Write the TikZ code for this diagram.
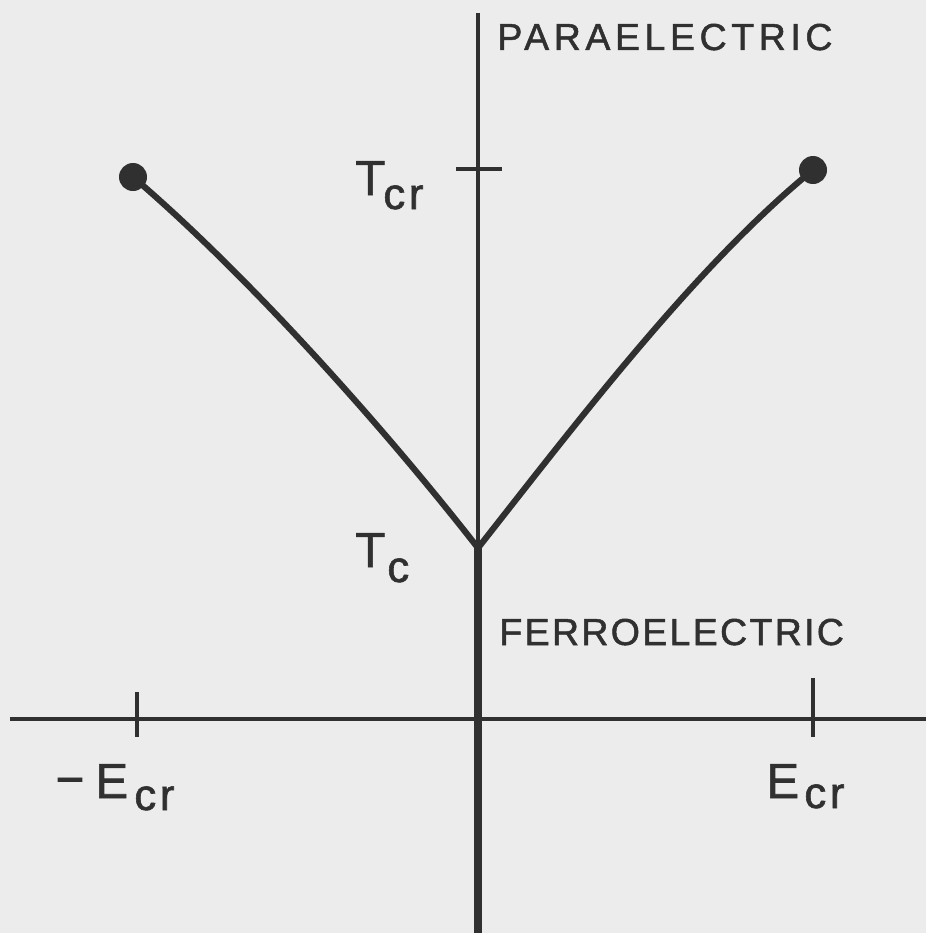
\documentclass[tikz,border=0pt]{standalone}
\usepackage{fontspec}
\setmainfont{Liberation Sans}
\newfontfamily\labelfont[FakeBold=1.3]{Liberation Sans}
\definecolor{bgpaper}{RGB}{236,236,236}
\definecolor{ink}{RGB}{48,48,48}
\tikzset{
  lbl/.style={inner sep=0pt, anchor=base west, text=ink},
  thinline/.style={draw=ink, line width=2.6pt},
  thickline/.style={draw=ink, line width=5.1pt},
  tickline/.style={draw=ink, line width=2.8pt},
  curveline/.style={draw=ink, line width=3.5pt, line join=round},
  enddot/.style={circle, fill=ink, minimum size=28*0.02cm, inner sep=0pt}
}
\newcommand{\mainsz}{\labelfont\fontsize{21.4pt}{24pt}\selectfont}
\newcommand{\bigsz}{\labelfont\fontsize{28pt}{30pt}\selectfont}
\newcommand{\subsz}{\labelfont\fontsize{25pt}{28pt}\selectfont}
\begin{document}
\begin{tikzpicture}[x=0.02cm,y=-0.02cm]
  \fill[bgpaper] (0,0) rectangle (926,933);
  \useasboundingbox (0,0) rectangle (926,933);
  % key points
  \coordinate (top) at (478,13);
  \coordinate (J) at (478,548);
  \coordinate (bot) at (478,933);
  \coordinate (xl) at (10,719);
  \coordinate (xr) at (926,719);
  \coordinate (tlt) at (137,692);
  \coordinate (tlb) at (137,737);
  \coordinate (trt) at (813,678);
  \coordinate (trb) at (813,737);
  \coordinate (tcl) at (456,169);
  \coordinate (tcr) at (502,169);
  \coordinate (DL) at (133,177);
  \coordinate (DR) at (813,170);
  % axes
  \draw[thinline] (top) -- (J);
  \draw[thickline] (J) -- (bot);
  \draw[thinline] (xl) -- (xr);
  \draw[tickline] (tlt) -- (tlb);
  \draw[tickline] (trt) -- (trb);
  \draw[tickline] (tcl) -- (tcr);
  % phase boundary curves
  \draw[curveline] (J) .. controls (386,430) and (248,275) .. (DL);
  \draw[curveline] (J) .. controls (571,430) and (696,265) .. (DR);
  \node[enddot] (dotL) at (DL) {};
  \node[enddot] (dotR) at (DR) {};
  % labels
  \node[lbl] (para) at (497,50) {\mainsz\addfontfeature{LetterSpace=12}PARAELECTRIC};
  \node[lbl] (ferro) at (499,645) {\mainsz\addfontfeature{LetterSpace=6}FERROELECTRIC};
  \node[lbl] (TcrT) at (355,195) {\bigsz T};
  \node[lbl] (TcrS) at (383,209) {\subsz c\kern2pt r};
  \node[lbl] (TcT) at (355,567) {\bigsz T};
  \node[lbl] (TcS) at (387,582) {\subsz c};
  \node[inner sep=0pt, text=ink] (mEm) at (70,787) {\bigsz −};
  \node[lbl] (mEE) at (95,798) {\bigsz E};
  \node[lbl] (mES) at (134,810) {\subsz c\kern2pt r};
  \node[lbl] (EE) at (766,798) {\bigsz E};
  \node[lbl] (ES) at (804,808) {\subsz c\kern2pt r};
\end{tikzpicture}
\end{document}
